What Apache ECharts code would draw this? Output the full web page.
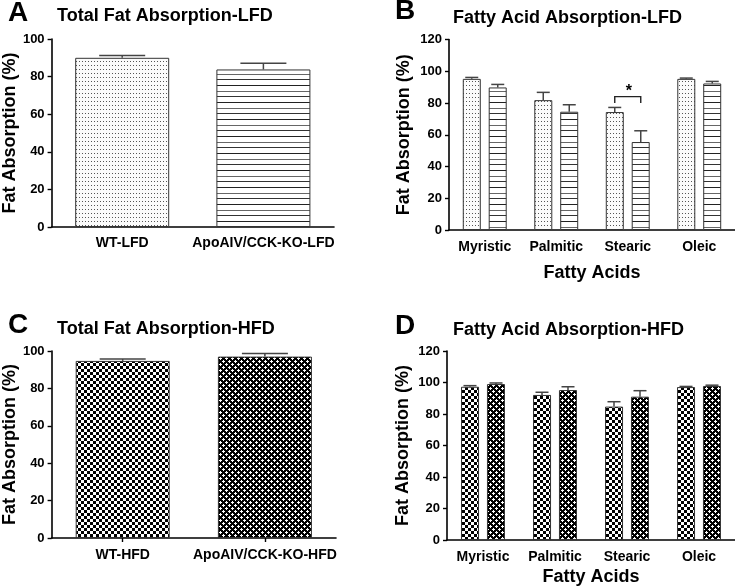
<!DOCTYPE html>
<html>
<head>
<meta charset="utf-8">
<script src="https://cdn.jsdelivr.net/npm/echarts@6/dist/echarts.min.js"></script>
<style>
html,body{margin:0;padding:0;background:#fff;}
#main{width:735px;height:587px;}
</style>
</head>
<body>
<div id="main"></div>
<script>
// ---------- data ----------
const totalCatsLFD = ['WT-LFD', 'ApoAIV/CCK-KO-LFD'];
const totalLFD = [90.0, 83.8];
const totalLFDsem = [1.2, 3.3];
const totalCatsHFD = ['WT-HFD', 'ApoAIV/CCK-KO-HFD'];
const totalHFD = [94.7, 97.0];
const totalHFDsem = [1.0, 1.6];
const fattyAcids = ['Myristic', 'Palmitic', 'Stearic', 'Oleic'];
const wtLFD = [95.2, 81.8, 74.3, 95.2];
const wtLFDsem = [0.9, 4.9, 2.9, 0.5];
const koLFD = [89.8, 74.5, 55.4, 92.3];
const koLFDsem = [1.9, 4.4, 7.1, 1.3];
const wtHFD = [97.3, 92.1, 84.7, 97.1];
const wtHFDsem = [0.7, 1.7, 3.1, 0.4];
const koHFD = [99.0, 95.2, 91.0, 97.8];
const koHFDsem = [0.7, 2.1, 3.8, 0.5];
const sigBracket = [[2, 84, 80]]; // category index, bracket top, leg bottom
const panelLetters = ['A', 'B', 'C', 'D'];
const panelTitles = ['Total Fat Absorption-LFD', 'Fatty Acid Absorption-LFD', 'Total Fat Absorption-HFD', 'Fatty Acid Absorption-HFD'];
const yName = 'Fat Absorption (%)';
const xNameFA = 'Fatty Acids';

// ---------- patterns ----------
function makeCanvas(w, h, draw) {
  const c = document.createElement('canvas');
  c.width = w; c.height = h;
  const ctx = c.getContext('2d');
  draw(ctx);
  return c;
}
const dotsPat = makeCanvas(3, 4, ctx => {
  ctx.fillStyle = '#fbfbfb'; ctx.fillRect(0, 0, 3, 4);
  ctx.fillStyle = '#555'; ctx.fillRect(1, 1, 1, 1);
});
const linesPat = makeCanvas(4, 17, ctx => {
  ctx.fillStyle = '#fff'; ctx.fillRect(0, 0, 4, 17);
  ctx.fillStyle = '#222'; ctx.fillRect(0, 0, 4, 1);
  ctx.fillStyle = '#666'; ctx.fillRect(0, 6, 4, 1);
  ctx.fillStyle = '#333'; ctx.fillRect(0, 11, 4, 1);
});
const checkPat = makeCanvas(6, 6, ctx => {
  ctx.fillStyle = '#fff'; ctx.fillRect(0, 0, 6, 6);
  ctx.fillStyle = '#000'; ctx.fillRect(0, 0, 3, 3); ctx.fillRect(3, 3, 3, 3);
});
const diamondPat = makeCanvas(6, 6, ctx => {
  ctx.fillStyle = '#000'; ctx.fillRect(0, 0, 6, 6);
  ctx.fillStyle = '#fff';
  ctx.fillRect(0, 1, 3, 1); ctx.fillRect(1, 0, 1, 3);
  ctx.fillRect(3, 4, 3, 1); ctx.fillRect(4, 3, 1, 3);
});
const pat = c => ({ image: c, repeat: 'repeat' });

// ---------- styles ----------
const FONT = '"Liberation Sans", Arial, sans-serif';
const axisLineStyle = { show: true, lineStyle: { color: '#000', width: 1.6 } };

function yAxisCfg(grid, max, nameGap) {
  return {
    type: 'value', gridIndex: grid, min: 0, max: max, interval: 20,
    name: yName, nameLocation: 'middle', nameGap: nameGap, nameRotate: 90,
    nameTextStyle: { fontFamily: FONT, fontWeight: 'bold', fontSize: 18, color: '#000' },
    axisLine: axisLineStyle,
    axisTick: { show: true, length: 4, lineStyle: { color: '#000', width: 1.4 } },
    axisLabel: { fontFamily: FONT, fontWeight: 'bold', fontSize: 13, color: '#000', margin: 7 },
    splitLine: { show: false }
  };
}
function xAxisCfg(grid, cats, opts) {
  return Object.assign({
    type: 'category', gridIndex: grid, data: cats,
    axisLine: axisLineStyle,
    axisTick: { show: false },
    axisLabel: { fontFamily: FONT, fontWeight: 'bold', fontSize: 14, color: '#000', margin: 10, interval: 0 },
    nameTextStyle: { fontFamily: FONT, fontWeight: 'bold', fontSize: 18, color: '#000' }
  }, opts || {});
}

function barSeries(grid, data, fill, width, gap) {
  return {
    type: 'bar', xAxisIndex: grid, yAxisIndex: grid, data: data,
    barWidth: width, barGap: gap,
    itemStyle: { color: pat(fill), borderColor: '#333', borderWidth: 1 },
    emphasis: { disabled: true }, silent: true, z: 2
  };
}
function errSeries(grid, means, sems, offset, cap) {
  return {
    type: 'custom', xAxisIndex: grid, yAxisIndex: grid, silent: true, z: 3,
    data: means.map((m, i) => [i, m, sems[i]]),
    encode: { x: 0, y: 1 },
    renderItem: function (params, api) {
      const i = api.value(0), m = api.value(1), s = api.value(2);
      const p0 = api.coord([i, m]);
      const p1 = api.coord([i, m + s]);
      const x = p0[0] + offset;
      const st = { stroke: '#444', lineWidth: 1.5 };
      return {
        type: 'group', children: [
          { type: 'line', shape: { x1: x, y1: p0[1], x2: x, y2: p1[1] }, style: st },
          { type: 'line', shape: { x1: x - cap, y1: p1[1], x2: x + cap, y2: p1[1] }, style: st }
        ]
      };
    }
  };
}

const grids = [
  { left: 50, top: 39, width: 284, bottom: 360 },
  { left: 449, top: 39.5, width: 287, bottom: 357 },
  { left: 51, top: 351, width: 285, bottom: 49 },
  { left: 447, top: 351, width: 289, bottom: 47 }
];

const letterPos = [[8, 13], [395, 11], [8, 325], [395, 326]];
const titlePos = [[57, 16], [453, 18], [57, 329], [453, 330]];
const graphics = [];
panelLetters.forEach((L, i) => {
  graphics.push({ type: 'text', x: letterPos[i][0], y: letterPos[i][1], silent: true,
    style: { text: L, font: 'bold 28px ' + FONT, fill: '#000', verticalAlign: 'middle', align: 'left' } });
  graphics.push({ type: 'text', x: titlePos[i][0], y: titlePos[i][1], silent: true,
    style: { text: panelTitles[i], font: 'bold 18px ' + FONT, fill: '#000', verticalAlign: 'middle', align: 'left' } });
});

const option = {
  animation: false,
  backgroundColor: '#fff',
  grid: grids,
  graphic: graphics,
  xAxis: [
    xAxisCfg(0, totalCatsLFD, { axisLabel: { fontFamily: FONT, fontWeight: 'bold', fontSize: 14, color: '#000', margin: 9, interval: 0 } }),
    xAxisCfg(1, fattyAcids, { name: xNameFA, nameLocation: 'middle', nameGap: 34 }),
    xAxisCfg(2, totalCatsHFD, { axisTick: { show: true, alignWithLabel: true, length: 4, lineStyle: { color: '#000', width: 1.4 } } }),
    xAxisCfg(3, fattyAcids, { name: xNameFA, nameLocation: 'middle', nameGap: 28 })
  ],
  yAxis: [
    yAxisCfg(0, 100, 31),
    yAxisCfg(1, 120, 36),
    yAxisCfg(2, 100, 31),
    yAxisCfg(3, 120, 35)
  ],
  series: [
    {
      type: 'bar', xAxisIndex: 0, yAxisIndex: 0, barWidth: 94, silent: true, z: 2,
      data: totalLFD.map((v, i) => ({ value: v, itemStyle: { color: pat(i === 0 ? dotsPat : linesPat), borderColor: '#333', borderWidth: 1 } }))
    },
    errSeries(0, totalLFD, totalLFDsem, 0, 23),
    barSeries(1, wtLFD, dotsPat, 18, '44%'),
    barSeries(1, koLFD, linesPat, 18, '44%'),
    errSeries(1, wtLFD, wtLFDsem, -13, 6.5),
    errSeries(1, koLFD, koLFDsem, 13, 6.5),
    {
      type: 'custom', xAxisIndex: 1, yAxisIndex: 1, silent: true, z: 4,
      data: sigBracket, encode: { x: 0, y: 1 },
      renderItem: function (params, api) {
        const i = api.value(0), top = api.value(1), bot = api.value(2);
        const pt = api.coord([i, top]);
        const pb = api.coord([i, bot]);
        const xl = pt[0] - 13, xr = pt[0] + 13;
        return {
          type: 'group', children: [
            { type: 'polyline', shape: { points: [[xl, pb[1]], [xl, pt[1]], [xr, pt[1]], [xr, pb[1]]] },
              style: { stroke: '#222', lineWidth: 1.4, fill: null } },
            { type: 'text', x: pt[0] + 1, y: pt[1] + 3,
              style: { text: '*', font: 'bold 16px ' + FONT, fill: '#000', align: 'center', verticalAlign: 'bottom' } }
          ]
        };
      }
    },
    {
      type: 'bar', xAxisIndex: 2, yAxisIndex: 2, barWidth: 94, silent: true, z: 2,
      data: totalHFD.map((v, i) => ({ value: v, itemStyle: { color: pat(i === 0 ? checkPat : diamondPat), borderColor: '#333', borderWidth: 1 } }))
    },
    errSeries(2, totalHFD, totalHFDsem, 0, 23),
    barSeries(3, wtHFD, checkPat, 18, '44%'),
    barSeries(3, koHFD, diamondPat, 18, '44%'),
    errSeries(3, wtHFD, wtHFDsem, -13, 6.5),
    errSeries(3, koHFD, koHFDsem, 13, 6.5)
  ]
};

const chart = echarts.init(document.getElementById('main'), null, { renderer: 'canvas' });
chart.setOption(option);
</script>
</body>
</html>
